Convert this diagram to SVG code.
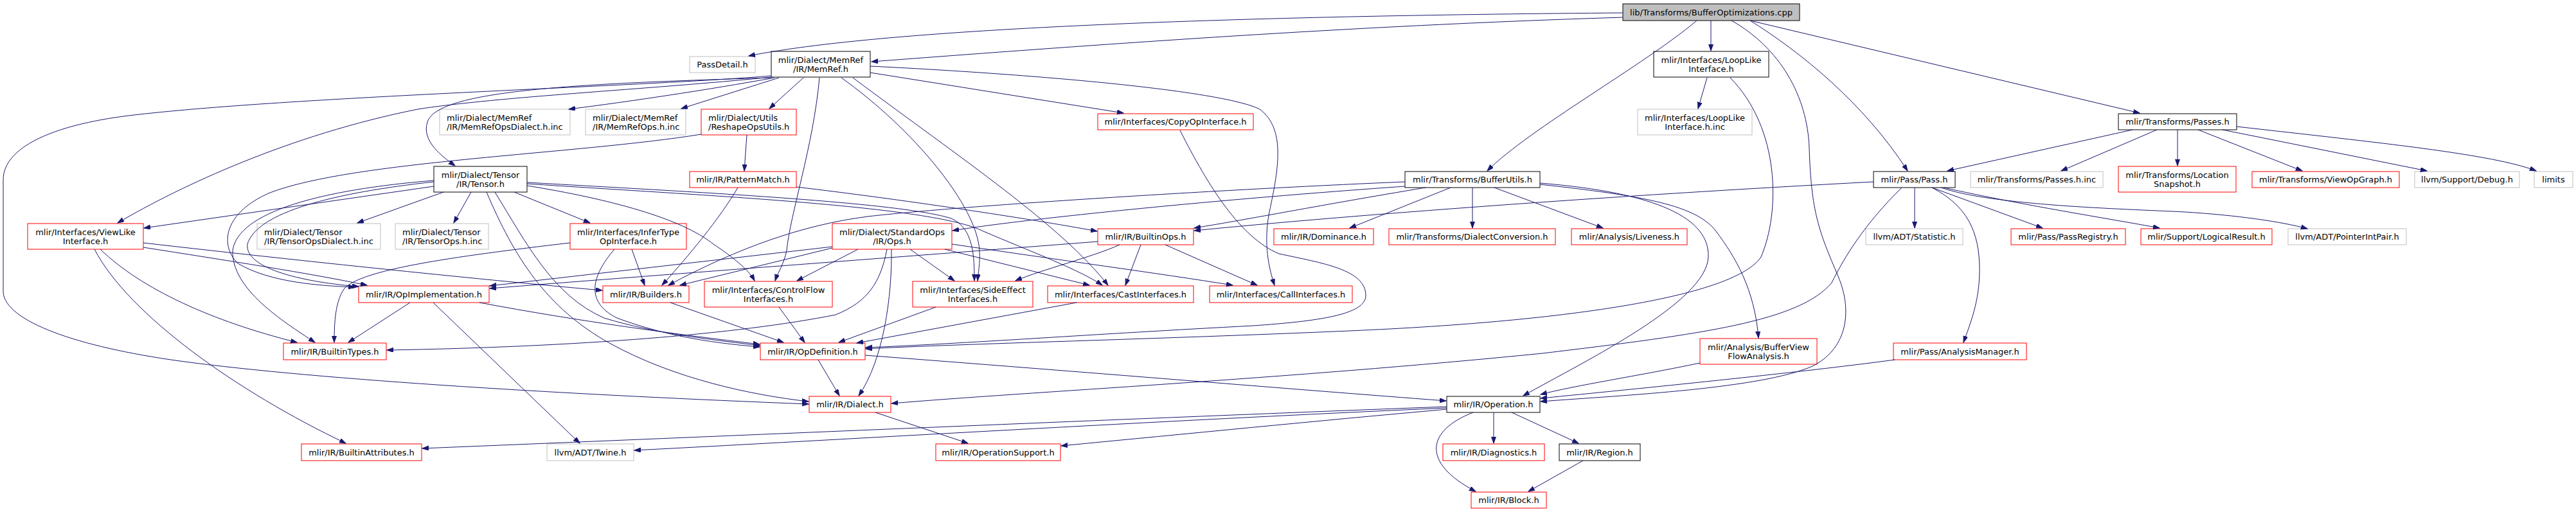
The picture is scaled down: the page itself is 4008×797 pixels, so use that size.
<svg xmlns="http://www.w3.org/2000/svg" width="4008" height="797" viewBox="0 0 4008 797">
<style>
rect{fill:#ffffff;stroke-width:1}
.r rect{stroke:#ff0000}
.g rect{stroke:#bfbfbf}
.k rect{stroke:#000000}
#root rect{fill:#bfbfbf;stroke:#000000}
text{font-family:"DejaVu Sans",sans-serif;font-size:13px;fill:#000000}
.c{text-anchor:middle}
#edges path{fill:none;stroke:#191970;stroke-width:1;marker-end:url(#a)}
</style>
<defs>
<marker id="a" markerUnits="userSpaceOnUse" markerWidth="11" markerHeight="8" refX="10" refY="3.5" orient="auto">
<path d="M0,0 L10,3.5 L0,7 z" fill="#191970" stroke="#191970" stroke-width="1"/>
</marker>
</defs>
<rect x="0" y="0" width="4008" height="797" style="fill:#ffffff;stroke:none"/>
<g id="nodes">
<g id="root"><rect x="2525" y="6" width="275" height="26"/><text class="c" x="2662.5" y="23.5">lib/Transforms/BufferOptimizations.cpp</text></g>
<g id="passdetail" class="g"><rect x="1073" y="88" width="102" height="25"/><text class="c" x="1124" y="105">PassDetail.h</text></g>
<g id="memref" class="k"><rect x="1200" y="80" width="154" height="40"/><text class="c" x="1277" y="97.5">mlir/Dialect/MemRef</text><text class="c" x="1277" y="111.5">/IR/MemRef.h</text></g>
<g id="looplike" class="k"><rect x="2573" y="80" width="179" height="40"/><text class="c" x="2662.5" y="97.5">mlir/Interfaces/LoopLike</text><text class="c" x="2662.5" y="111.5">Interface.h</text></g>
<g id="memrefopsdialect" class="g"><rect x="684" y="170" width="203" height="40"/><text x="695" y="187.5">mlir/Dialect/MemRef</text><text x="695" y="201.5">/IR/MemRefOpsDialect.h.inc</text></g>
<g id="memrefops" class="g"><rect x="911" y="170" width="156" height="40"/><text x="922" y="187.5">mlir/Dialect/MemRef</text><text x="922" y="201.5">/IR/MemRefOps.h.inc</text></g>
<g id="reshape" class="r"><rect x="1091" y="170" width="148" height="40"/><text x="1102" y="187.5">mlir/Dialect/Utils</text><text x="1102" y="201.5">/ReshapeOpsUtils.h</text></g>
<g id="copyop" class="r"><rect x="1708" y="177" width="242" height="25"/><text class="c" x="1829" y="194">mlir/Interfaces/CopyOpInterface.h</text></g>
<g id="looplikeinc" class="g"><rect x="2548" y="170" width="178" height="40"/><text class="c" x="2637" y="187.5">mlir/Interfaces/LoopLike</text><text class="c" x="2637" y="201.5">Interface.h.inc</text></g>
<g id="passes" class="k"><rect x="3296" y="177" width="184" height="25"/><text class="c" x="3388" y="194">mlir/Transforms/Passes.h</text></g>
<g id="tensor" class="k"><rect x="675" y="259" width="145" height="40"/><text class="c" x="747.5" y="276.5">mlir/Dialect/Tensor</text><text class="c" x="747.5" y="290.5">/IR/Tensor.h</text></g>
<g id="patternmatch" class="r"><rect x="1073" y="267" width="166" height="25"/><text class="c" x="1156" y="284">mlir/IR/PatternMatch.h</text></g>
<g id="bufferutils" class="k"><rect x="2186" y="267" width="210" height="25"/><text class="c" x="2291" y="284">mlir/Transforms/BufferUtils.h</text></g>
<g id="pass" class="k"><rect x="2915" y="267" width="127" height="25"/><text class="c" x="2978.5" y="284">mlir/Pass/Pass.h</text></g>
<g id="passesinc" class="g"><rect x="3066" y="267" width="206" height="25"/><text class="c" x="3169" y="284">mlir/Transforms/Passes.h.inc</text></g>
<g id="locsnap" class="r"><rect x="3296" y="259" width="183" height="40"/><text class="c" x="3387.5" y="276.5">mlir/Transforms/Location</text><text class="c" x="3387.5" y="290.5">Snapshot.h</text></g>
<g id="viewopgraph" class="r"><rect x="3504" y="267" width="229" height="25"/><text class="c" x="3618.5" y="284">mlir/Transforms/ViewOpGraph.h</text></g>
<g id="debug" class="g"><rect x="3757" y="267" width="163" height="25"/><text class="c" x="3838.5" y="284">llvm/Support/Debug.h</text></g>
<g id="limits" class="g"><rect x="3943" y="267" width="60" height="25"/><text class="c" x="3973" y="284">limits</text></g>
<g id="viewlike" class="r"><rect x="43" y="348" width="180" height="40"/><text class="c" x="133" y="365.5">mlir/Interfaces/ViewLike</text><text class="c" x="133" y="379.5">Interface.h</text></g>
<g id="tensoropsdialect" class="g"><rect x="400" y="348" width="192" height="40"/><text x="411" y="365.5">mlir/Dialect/Tensor</text><text x="411" y="379.5">/IR/TensorOpsDialect.h.inc</text></g>
<g id="tensorops" class="g"><rect x="615" y="348" width="145" height="40"/><text x="626" y="365.5">mlir/Dialect/Tensor</text><text x="626" y="379.5">/IR/TensorOps.h.inc</text></g>
<g id="infertype" class="r"><rect x="887" y="348" width="181" height="40"/><text class="c" x="977.5" y="365.5">mlir/Interfaces/InferType</text><text class="c" x="977.5" y="379.5">OpInterface.h</text></g>
<g id="stdops" class="r"><rect x="1295" y="348" width="186" height="40"/><text class="c" x="1388" y="365.5">mlir/Dialect/StandardOps</text><text class="c" x="1388" y="379.5">/IR/Ops.h</text></g>
<g id="builtinops" class="r"><rect x="1708" y="356" width="149" height="25"/><text class="c" x="1782.5" y="373">mlir/IR/BuiltinOps.h</text></g>
<g id="dominance" class="r"><rect x="1982" y="356" width="155" height="25"/><text class="c" x="2059.5" y="373">mlir/IR/Dominance.h</text></g>
<g id="dialectconv" class="r"><rect x="2161" y="356" width="259" height="25"/><text class="c" x="2290.5" y="373">mlir/Transforms/DialectConversion.h</text></g>
<g id="liveness" class="r"><rect x="2445" y="356" width="180" height="25"/><text class="c" x="2535" y="373">mlir/Analysis/Liveness.h</text></g>
<g id="statistic" class="g"><rect x="2903" y="356" width="151" height="25"/><text class="c" x="2978.5" y="373">llvm/ADT/Statistic.h</text></g>
<g id="passregistry" class="r"><rect x="3129" y="356" width="178" height="25"/><text class="c" x="3218" y="373">mlir/Pass/PassRegistry.h</text></g>
<g id="logicalresult" class="r"><rect x="3331" y="356" width="204" height="25"/><text class="c" x="3433" y="373">mlir/Support/LogicalResult.h</text></g>
<g id="pointerintpair" class="g"><rect x="3560" y="356" width="184" height="25"/><text class="c" x="3652" y="373">llvm/ADT/PointerIntPair.h</text></g>
<g id="opimpl" class="r"><rect x="558" y="445" width="203" height="26"/><text class="c" x="659.5" y="462.5">mlir/IR/OpImplementation.h</text></g>
<g id="builders" class="r"><rect x="938" y="445" width="134" height="26"/><text class="c" x="1005" y="462.5">mlir/IR/Builders.h</text></g>
<g id="controlflow" class="r"><rect x="1096" y="438" width="199" height="40"/><text class="c" x="1195.5" y="455.5">mlir/Interfaces/ControlFlow</text><text class="c" x="1195.5" y="469.5">Interfaces.h</text></g>
<g id="sideeffect" class="r"><rect x="1420" y="438" width="187" height="40"/><text class="c" x="1513.5" y="455.5">mlir/Interfaces/SideEffect</text><text class="c" x="1513.5" y="469.5">Interfaces.h</text></g>
<g id="cast" class="r"><rect x="1630" y="445" width="227" height="26"/><text class="c" x="1743.5" y="462.5">mlir/Interfaces/CastInterfaces.h</text></g>
<g id="call" class="r"><rect x="1882" y="445" width="222" height="26"/><text class="c" x="1993" y="462.5">mlir/Interfaces/CallInterfaces.h</text></g>
<g id="bvfa" class="r"><rect x="2645" y="527" width="182" height="40"/><text class="c" x="2736" y="544.5">mlir/Analysis/BufferView</text><text class="c" x="2736" y="558.5">FlowAnalysis.h</text></g>
<g id="analysismgr" class="r"><rect x="2946" y="534" width="207" height="26"/><text class="c" x="3049.5" y="551.5">mlir/Pass/AnalysisManager.h</text></g>
<g id="builtintypes" class="r"><rect x="441" y="534" width="160" height="26"/><text class="c" x="521" y="551.5">mlir/IR/BuiltinTypes.h</text></g>
<g id="opdef" class="r"><rect x="1183" y="534" width="163" height="26"/><text class="c" x="1264.5" y="551.5">mlir/IR/OpDefinition.h</text></g>
<g id="dialect" class="r"><rect x="1259" y="617" width="127" height="25"/><text class="c" x="1322.5" y="634">mlir/IR/Dialect.h</text></g>
<g id="operation" class="k"><rect x="2251" y="617" width="145" height="25"/><text class="c" x="2323.5" y="634">mlir/IR/Operation.h</text></g>
<g id="builtinattrs" class="r"><rect x="469" y="691" width="187" height="26"/><text class="c" x="562.5" y="708.5">mlir/IR/BuiltinAttributes.h</text></g>
<g id="twine" class="g"><rect x="851" y="691" width="135" height="26"/><text class="c" x="918.5" y="708.5">llvm/ADT/Twine.h</text></g>
<g id="opsupport" class="r"><rect x="1456" y="691" width="194" height="26"/><text class="c" x="1553" y="708.5">mlir/IR/OperationSupport.h</text></g>
<g id="diagnostics" class="r"><rect x="2245" y="691" width="158" height="26"/><text class="c" x="2324" y="708.5">mlir/IR/Diagnostics.h</text></g>
<g id="region" class="k"><rect x="2426" y="691" width="126" height="26"/><text class="c" x="2489" y="708.5">mlir/IR/Region.h</text></g>
<g id="block" class="r"><rect x="2289" y="766" width="117" height="25"/><text class="c" x="2347.5" y="783">mlir/IR/Block.h</text></g>
</g>
<g id="edges">
<path d="M2525,20 C2000,24 1400,40 1165,87"/>
<path d="M2525,27 C2100,40 1700,70 1356,96"/>
<path d="M2640,32 C2560,100 2380,200 2314,266"/>
<path d="M2662,32 L2662,79"/>
<path d="M2694,32 C2770,75 2812,150 2815,230 C2818,330 2830,360 2860,430 C2885,490 2870,545 2820,570 C2740,605 2530,615 2397,625"/>
<path d="M2723,32 C2800,80 2900,160 2968,266"/>
<path d="M2723,32 L3329,176"/>
<path d="M1200,118 C1000,135 450,150 200,180 C80,195 5,230 5,280 L5,455 C8,500 120,540 280,562 C500,592 900,615 1258,629"/>
<path d="M1200,120 C1000,140 780,150 650,170 C450,210 280,290 183,347"/>
<path d="M1200,121 C900,130 680,140 665,190 C655,220 690,245 708,258"/>
<path d="M1205,121 C1100,140 980,158 885,170"/>
<path d="M1212,121 L1060,169"/>
<path d="M1250,121 L1197,169"/>
<path d="M1354,113 L1748,176"/>
<path d="M1275,121 C1265,230 1230,330 1224,390 C1220,410 1210,425 1206,437"/>
<path d="M1309,121 C1420,200 1520,320 1524,390 C1525,410 1522,425 1521,437"/>
<path d="M1327,121 C1500,250 1650,350 1724,444"/>
<path d="M1354,103 C1600,115 1900,140 1960,170 C2000,200 1990,260 1975,330 C1965,380 1975,420 1983,444"/>
<path d="M1162,210 L1158,266"/>
<path d="M1091,209 C900,240 550,250 420,300 C350,330 340,380 370,410 C420,440 500,445 552,447"/>
<path d="M1148,292 C1120,340 1070,400 1030,444"/>
<path d="M1239,291 C1400,310 1600,340 1707,360"/>
<path d="M675,290 L224,355"/>
<path d="M690,299 L556,347"/>
<path d="M733,299 L706,347"/>
<path d="M800,299 L918,347"/>
<path d="M757,299 C800,400 850,480 950,535 C1050,590 1170,615 1258,625"/>
<path d="M770,299 C820,380 860,460 940,495 C1020,520 1120,530 1182,538"/>
<path d="M675,283 C520,300 400,330 385,380 C380,420 480,440 558,446"/>
<path d="M675,281 C500,295 370,330 362,390 C360,450 440,500 490,533"/>
<path d="M820,289 C950,310 1060,340 1110,380 C1140,400 1165,420 1174,437"/>
<path d="M820,284 C1100,300 1400,315 1480,340 C1515,355 1516,400 1516,437"/>
<path d="M820,286 C1100,305 1450,320 1530,360 C1600,390 1680,420 1715,444"/>
<path d="M147,388 C200,490 370,610 538,690"/>
<path d="M156,388 C220,450 330,500 462,533"/>
<path d="M223,385 C350,405 480,425 571,444"/>
<path d="M223,378 C500,410 800,440 937,452"/>
<path d="M887,378 C700,400 560,420 535,450 C522,470 520,500 520,533"/>
<path d="M983,388 L1003,444"/>
<path d="M956,388 C920,430 910,470 960,495 C1040,525 1120,535 1182,540"/>
<path d="M1295,386 L1058,444"/>
<path d="M1295,384 L762,445"/>
<path d="M1335,388 L1240,437"/>
<path d="M1380,388 C1370,440 1350,470 1300,490 C1150,520 900,540 602,545"/>
<path d="M1387,388 C1388,460 1375,560 1336,616"/>
<path d="M1416,388 L1485,437"/>
<path d="M1470,388 L1695,444"/>
<path d="M1481,380 C1650,405 1800,425 1918,444"/>
<path d="M1708,376 C1400,400 1000,430 762,449"/>
<path d="M1742,381 C1700,400 1620,420 1580,437"/>
<path d="M1775,381 L1751,444"/>
<path d="M1813,381 L1956,444"/>
<path d="M2186,283 C1900,295 1500,320 1350,337 C1250,350 1150,385 1040,444"/>
<path d="M2186,290 C1900,310 1600,340 1482,359"/>
<path d="M2218,292 C2050,320 1950,340 1858,355"/>
<path d="M2257,292 L2100,355"/>
<path d="M2291,292 L2291,355"/>
<path d="M2325,292 L2494,355"/>
<path d="M2396,287 C2560,305 2640,320 2670,360 C2700,400 2730,450 2736,526"/>
<path d="M2396,285 C2580,300 2660,340 2658,400 C2655,470 2470,560 2370,616"/>
<path d="M2656,121 L2642,169"/>
<path d="M2692,121 C2770,200 2770,330 2740,400 C2700,460 2450,500 2100,515 C1800,528 1500,535 1347,543"/>
<path d="M1836,203 C1880,290 1930,370 1990,395 C2060,410 2125,420 2125,460 C2125,490 2050,500 1950,507 C1700,520 1500,535 1347,541"/>
<path d="M2915,283 C2500,305 2100,335 1858,359"/>
<path d="M2979,292 L2979,355"/>
<path d="M3006,292 L3178,355"/>
<path d="M3024,292 C3150,320 3280,340 3360,355"/>
<path d="M3020,292 C3100,320 3300,325 3400,330 C3480,335 3550,345 3590,356"/>
<path d="M3006,292 C3060,320 3080,360 3080,420 C3080,470 3065,505 3055,533"/>
<path d="M2959,292 C2900,350 2870,400 2850,440 C2800,500 2650,520 2400,550 C2000,590 1600,610 1387,628"/>
<path d="M3318,202 L3030,266"/>
<path d="M3356,202 L3207,266"/>
<path d="M3388,202 L3388,258"/>
<path d="M3420,202 L3582,266"/>
<path d="M3458,202 L3776,266"/>
<path d="M3480,197 C3700,222 3880,240 3946,266"/>
<path d="M638,471 L542,533"/>
<path d="M674,471 L902,690"/>
<path d="M746,471 C900,500 1050,520 1182,536"/>
<path d="M1043,471 L1219,533"/>
<path d="M1212,478 L1252,533"/>
<path d="M1456,478 L1305,533"/>
<path d="M1675,471 L1333,534"/>
<path d="M1273,560 L1306,616"/>
<path d="M1346,553 C1700,580 2000,605 2250,624"/>
<path d="M2645,565 C2550,585 2450,600 2397,614"/>
<path d="M2948,560 C2800,580 2550,605 2397,620"/>
<path d="M1362,642 L1506,690"/>
<path d="M2251,633 C1800,650 1100,680 657,698"/>
<path d="M2251,635 C1800,655 1300,685 987,701"/>
<path d="M2251,637 C2050,655 1850,675 1651,694"/>
<path d="M2324,642 L2324,690"/>
<path d="M2352,642 L2456,690"/>
<path d="M2292,642 C2220,670 2210,720 2296,765"/>
<path d="M2463,717 L2378,765"/>
</g>
</svg>
